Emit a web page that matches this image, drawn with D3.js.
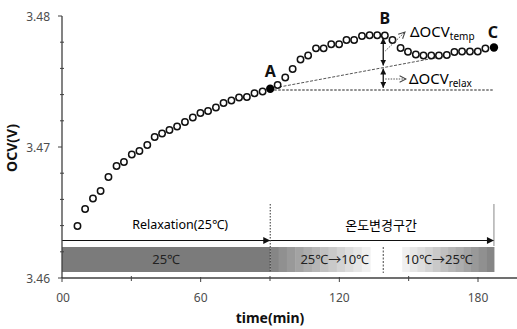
<!DOCTYPE html>
<html>
<head>
<meta charset="utf-8">
<script src="https://d3js.org/d3.v7.min.js"></script>
<style>
  body { margin: 0; background: #fff; }
  svg { display: block; font-family: "Noto Sans", "Noto Sans CJK KR", sans-serif; }
  .pt { fill: #fff; stroke: #111; stroke-width: 1.5px; }
  .tick-label { font-size: 12px; fill: #4d4d4d; }
</style>
</head>
<body>
<script>
// OCV readings (min, V)
var times = [6.7, 10.0, 13.4, 16.7, 20.1, 23.6, 26.8, 30.2, 33.5, 36.9,
             40.1, 43.3, 46.5, 49.8, 53.2, 56.6, 59.9, 63.2, 66.6, 69.9,
             73.3, 76.6, 80.0, 83.3, 86.8, 90.1, 93.3, 96.6, 99.8, 103.2,
             106.5, 109.9, 113.2, 116.5, 119.9, 123.1, 126.4, 129.8, 133.1, 136.4,
             139.7, 143.0, 146.5, 149.7, 153.1, 156.4, 159.8, 163.1, 166.5, 169.8,
             173.1, 176.5, 179.9, 183.2, 186.9];
var ocv = [3.46397, 3.46527, 3.46607, 3.46664, 3.46771, 3.46855, 3.46886, 3.46943, 3.46969, 3.47015,
           3.47076, 3.47103, 3.47130, 3.47157, 3.47191, 3.47225, 3.47260, 3.47275, 3.47302, 3.47336,
           3.47355, 3.47378, 3.47382, 3.47410, 3.47424, 3.47445, 3.47473, 3.47531, 3.47595, 3.47668,
           3.47698, 3.47753, 3.47753, 3.47784, 3.47784, 3.47817, 3.47817, 3.47847, 3.47853, 3.47853,
           3.47851, 3.47817, 3.47756, 3.47727, 3.47706, 3.47698, 3.47698, 3.47698, 3.47702, 3.47725,
           3.47729, 3.47729, 3.47729, 3.47752, 3.47760];

var pointNames = ["A", "B", "C"];
var pointIndex = [25, 40, 54];
var filledNames = ["A", "C"];

var xTicks = [0, 60, 120, 180];
var xTickLabels = ["00", "60", "120", "180"];
var xMinorTicks = [30, 90, 150];
var yTicks = [3.46, 3.47, 3.48];
var yMinorTicks = [3.462, 3.464, 3.466, 3.468, 3.472, 3.474, 3.476, 3.478];

// temperature phases
var phaseNames = ["25℃", "25℃→10℃", "10℃→25℃"];
var phaseStart = [0, 90.1, 147.2];
var phaseEnd = [90.1, 133.3, 186.9];
var phaseSplit = 139.0;

// interval brackets
var intervalNames = ["Relaxation(25℃)", "온도변경구간"];
var intervalStart = [0, 90.1];
var intervalEnd = [90.1, 186.9];

// ΔOCV construction
var relaxLineEnd = {t: 163.6, v: 3.47687};
var deltaT = 139.0;
var deltaTop = 3.47833, deltaMid = 3.47614, deltaBottom = 3.47445;
var baseV = 3.47435;

var W = 517, H = 329;
var x = d3.scaleLinear().domain([0, 180]).range([62, 478]);
var y = d3.scaleLinear().domain([3.46, 3.48]).range([278, 16]);

var svg = d3.select("body").append("svg")
    .attr("width", W)
    .attr("height", H);

var defs = svg.append("defs");
defs.append("marker").attr("id", "tri")
    .attr("viewBox", "0 0 10 10").attr("refX", 10).attr("refY", 5)
    .attr("markerWidth", 9).attr("markerHeight", 7).attr("markerUnits", "userSpaceOnUse")
    .attr("orient", "auto-start-reverse")
  .append("path").attr("d", "M0,0L10,5L0,10Z").attr("fill", "#111");
defs.append("marker").attr("id", "tri-s")
    .attr("viewBox", "0 0 10 10").attr("refX", 10).attr("refY", 5)
    .attr("markerWidth", 6).attr("markerHeight", 6).attr("markerUnits", "userSpaceOnUse")
    .attr("orient", "auto-start-reverse")
  .append("path").attr("d", "M0,0L10,5L0,10Z").attr("fill", "#111");
defs.append("marker").attr("id", "chev")
    .attr("viewBox", "0 0 10 10").attr("refX", 9).attr("refY", 5)
    .attr("markerWidth", 8).attr("markerHeight", 8).attr("markerUnits", "userSpaceOnUse")
    .attr("orient", "auto")
  .append("path").attr("d", "M1,1L9,5L1,9").attr("fill", "none").attr("stroke", "#444").attr("stroke-width", 1.3);

// temperature band
var bandTop = 247, bandBottom = 272;
var gray = d3.interpolateRgb("#868686", "#f0f0f0");
var steps = 12;
phaseNames.forEach(function(name, i) {
    var x0 = x(phaseStart[i]), x1 = x(phaseEnd[i]);
    if (i === 0) {
        svg.append("rect").attr("x", x0).attr("y", bandTop)
            .attr("width", x1 - x0).attr("height", bandBottom - bandTop)
            .attr("fill", "#7b7b7b");
    } else {
        var w = (x1 - x0) / steps;
        for (var k = 0; k < steps; k++) {
            var f = i === 1 ? k / (steps - 1) : 1 - k / (steps - 1);
            svg.append("rect").attr("x", x0 + k * w).attr("y", bandTop)
                .attr("width", w + 0.5).attr("height", bandBottom - bandTop)
                .attr("fill", gray(f));
        }
    }
    var tx = i === 0 ? (x0 + x1) / 2 : (i === 1 ? x1 - 1 : x0 + 2);
    svg.append("text").attr("x", tx).attr("y", (bandTop + bandBottom) / 2 + 4.5)
        .attr("text-anchor", i === 0 ? "middle" : (i === 1 ? "end" : "start"))
        .attr("font-size", 13).attr("fill", "#222").text(name);
});
svg.append("line").attr("x1", x(phaseSplit)).attr("x2", x(phaseSplit))
    .attr("y1", bandTop).attr("y2", bandBottom + 1)
    .attr("stroke", "#444").attr("stroke-dasharray", "2,1.5");

// interval arrows
var arrowY = 240.5;
intervalNames.forEach(function(name, i) {
    svg.append("line").attr("x1", x(intervalStart[i])).attr("x2", x(intervalEnd[i]))
        .attr("y1", arrowY).attr("y2", arrowY)
        .attr("stroke", "#111").attr("stroke-width", 1.2)
        .attr("marker-end", "url(#tri)");
});
svg.append("text").attr("x", (x(intervalStart[0]) + x(intervalEnd[0])) / 2 + 14).attr("y", 229)
    .attr("text-anchor", "middle").attr("font-size", 12.5).attr("fill", "#000").text(intervalNames[0]);
svg.append("text").attr("x", (x(intervalStart[1]) + x(intervalEnd[1])) / 2 - 1).attr("y", 230)
    .attr("text-anchor", "middle").attr("font-size", 13).attr("fill", "#000").text(intervalNames[1]);
svg.append("line").attr("x1", x(intervalStart[1])).attr("x2", x(intervalStart[1]))
    .attr("y1", 204).attr("y2", bandBottom + 1)
    .attr("stroke", "#333").attr("stroke-dasharray", "1.5,1.5");
svg.append("line").attr("x1", x(intervalEnd[1])).attr("x2", x(intervalEnd[1]))
    .attr("y1", 204).attr("y2", bandTop - 1)
    .attr("stroke", "#888");

// axes
var axisColor = "#404040";
svg.append("line").attr("x1", x(0)).attr("x2", x(0)).attr("y1", y(3.48)).attr("y2", y(3.46))
    .attr("stroke", axisColor).attr("stroke-width", 1.3);
svg.append("line").attr("x1", x(0)).attr("x2", W).attr("y1", y(3.46)).attr("y2", y(3.46))
    .attr("stroke", axisColor).attr("stroke-width", 1.3);

yTicks.forEach(function(v) {
    svg.append("line").attr("x1", x(0) - 4).attr("x2", x(0)).attr("y1", y(v)).attr("y2", y(v))
        .attr("stroke", axisColor);
    svg.append("text").attr("class", "tick-label").attr("x", 50).attr("y", y(v) + 4.5)
        .attr("text-anchor", "end").text(d3.format(".2f")(v));
});
yMinorTicks.forEach(function(v) {
    svg.append("line").attr("x1", x(0) - 2).attr("x2", x(0) + 2).attr("y1", y(v)).attr("y2", y(v))
        .attr("stroke", axisColor);
});
xTicks.forEach(function(t, i) {
    svg.append("line").attr("x1", x(t)).attr("x2", x(t)).attr("y1", y(3.46) - 1).attr("y2", y(3.46) + 4)
        .attr("stroke", axisColor);
    svg.append("text").attr("class", "tick-label").attr("x", x(t) + (i === 0 ? 1 : 0)).attr("y", 302)
        .attr("text-anchor", "middle").text(xTickLabels[i]);
});
xMinorTicks.forEach(function(t) {
    svg.append("line").attr("x1", x(t)).attr("x2", x(t)).attr("y1", y(3.46) - 2).attr("y2", y(3.46) + 3)
        .attr("stroke", axisColor);
});

svg.append("text").attr("x", 270).attr("y", 323).attr("text-anchor", "middle")
    .attr("font-size", 14).attr("font-weight", "bold").attr("fill", "#111").text("time(min)");
svg.append("text").attr("transform", "translate(17,148) rotate(-90)").attr("text-anchor", "middle")
    .attr("font-size", 14).attr("font-weight", "bold").attr("fill", "#111").text("OCV(V)");

// ΔOCV construction lines
var iA = pointIndex[0], iC = pointIndex[2];
svg.append("line").attr("x1", x(times[iA])).attr("x2", x(times[iC]))
    .attr("y1", y(baseV)).attr("y2", y(baseV))
    .attr("stroke", "#222").attr("stroke-dasharray", "2.5,1.5");
svg.append("line").attr("x1", x(times[iA])).attr("y1", y(ocv[iA]))
    .attr("x2", x(relaxLineEnd.t)).attr("y2", y(relaxLineEnd.v))
    .attr("stroke", "#555").attr("stroke-dasharray", "3,1.5");

// data points
var data = times.map(function(t, i) { return {t: t, v: ocv[i]}; });
svg.selectAll("circle.pt").data(data.filter(function(d, i) {
        var k = pointIndex.indexOf(i);
        return k < 0 || filledNames.indexOf(pointNames[k]) < 0;
    }))
  .enter().append("circle").attr("class", "pt")
    .attr("cx", function(d) { return x(d.t); })
    .attr("cy", function(d) { return y(d.v); })
    .attr("r", 3.2);

pointNames.forEach(function(name, k) {
    var d = data[pointIndex[k]];
    if (filledNames.indexOf(name) >= 0) {
        svg.append("circle").attr("cx", x(d.t)).attr("cy", y(d.v)).attr("r", 4.2).attr("fill", "#000");
    }
    svg.append("text").attr("x", x(d.t) - (name === "C" ? 1 : 0)).attr("y", y(d.v) - (name === "C" ? 9.5 : 12))
        .attr("text-anchor", "middle").attr("font-size", 16).attr("font-weight", "bold")
        .attr("fill", "#111").text(name);
});

// double-headed ΔOCV arrows
svg.append("line").attr("x1", x(deltaT)).attr("x2", x(deltaT))
    .attr("y1", y(deltaTop)).attr("y2", y(deltaMid) - 1)
    .attr("stroke", "#111").attr("stroke-width", 1.3)
    .attr("marker-start", "url(#tri-s)").attr("marker-end", "url(#tri-s)");
svg.append("line").attr("x1", x(deltaT)).attr("x2", x(deltaT))
    .attr("y1", y(deltaMid) + 2).attr("y2", y(deltaBottom) - 1)
    .attr("stroke", "#111").attr("stroke-width", 1.3)
    .attr("marker-start", "url(#tri-s)").attr("marker-end", "url(#tri-s)");

// pointers to labels
svg.append("line").attr("x1", x(deltaT) + 2).attr("y1", 51).attr("x2", 405).attr("y2", 32)
    .attr("stroke", "#555").attr("stroke-dasharray", "1.5,1.2").attr("marker-end", "url(#chev)");
svg.append("line").attr("x1", x(deltaT) + 2).attr("y1", 79).attr("x2", 406).attr("y2", 79)
    .attr("stroke", "#555").attr("stroke-dasharray", "1.5,1.2").attr("marker-end", "url(#chev)");

function deltaLabel(px, py, sub) {
    var t = svg.append("text").attr("x", px).attr("y", py).attr("font-size", 15).attr("fill", "#000");
    t.append("tspan").text("ΔOCV");
    t.append("tspan").attr("font-size", 10).attr("dy", 3).text(sub);
}
deltaLabel(410, 37, "temp");
deltaLabel(409, 84, "relax");
</script>
</body>
</html>
